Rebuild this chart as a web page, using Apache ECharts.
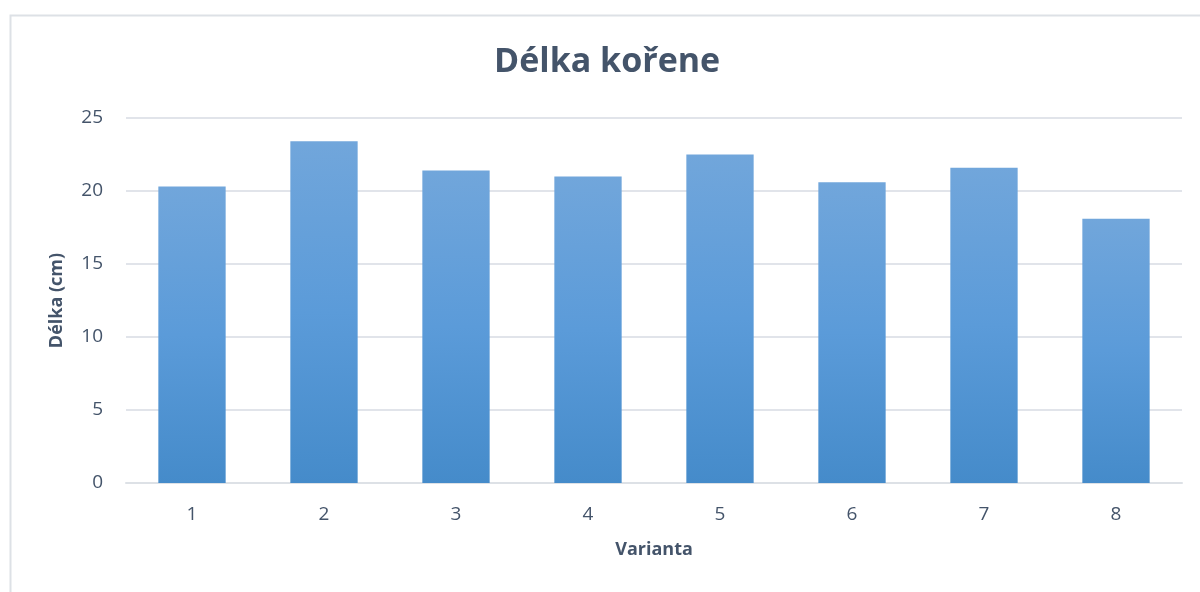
<!DOCTYPE html>
<html>
<head>
<meta charset="utf-8">
<title>Délka kořene</title>
<script src="https://cdn.jsdelivr.net/npm/echarts@6/dist/echarts.min.js"></script>
<style>
  html, body { margin: 0; padding: 0; background: #fff; }
  #chart { width: 1200px; height: 592px; }
</style>
</head>
<body>
<div id="chart"></div>
<script>
// data
var varianty = ['1', '2', '3', '4', '5', '6', '7', '8'];
var delka = [20.3, 23.4, 21.4, 21.0, 22.5, 20.6, 21.6, 18.1];
var yTicks = [0, 5, 10, 15, 20, 25];

var textColor = '#44546A';
var fontFam = '"Open Sans", "Noto Sans", sans-serif';

var myChart = echarts.init(document.getElementById('chart'));
var option = {
    animation: false,
    graphic: [{
        type: 'rect',
        left: 8, top: 13,
        shape: { width: 1220, height: 620 },
        style: { fill: 'none', stroke: '#DDE1E6', lineWidth: 2 },
        silent: true
    }],
    title: {
        text: 'Délka kořene',
        left: 489,
        top: 40,
        textStyle: {
            fontFamily: fontFam,
            fontSize: 34,
            fontWeight: 'bold',
            color: textColor
        }
    },
    grid: {
        left: 126,
        right: 18,
        top: 118,
        bottom: 109
    },
    xAxis: {
        type: 'category',
        data: varianty,
        name: 'Varianta',
        nameLocation: 'middle',
        nameGap: 58,
        nameTextStyle: {
            fontFamily: fontFam,
            fontSize: 18,
            fontWeight: 'bold',
            color: textColor
        },
        axisLine: { show: true, lineStyle: { color: '#DDE1E6', width: 2 } },
        axisTick: { show: false },
        axisLabel: {
            fontFamily: fontFam,
            fontSize: 19,
            color: textColor,
            margin: 22
        }
    },
    yAxis: {
        type: 'value',
        min: yTicks[0],
        max: yTicks[yTicks.length - 1],
        interval: 5,
        name: 'Délka (cm)',
        nameLocation: 'middle',
        nameGap: 60,
        nameTextStyle: {
            fontFamily: fontFam,
            fontSize: 18,
            fontWeight: 'bold',
            color: textColor
        },
        axisLine: { show: false },
        axisTick: { show: false },
        axisLabel: {
            fontFamily: fontFam,
            fontSize: 19,
            color: textColor,
            margin: 23
        },
        splitLine: { lineStyle: { color: '#E1E4EA', width: 2 } }
    },
    series: [{
        type: 'bar',
        data: delka,
        barWidth: '51%',
        itemStyle: {
            color: new echarts.graphic.LinearGradient(0, 0, 0, 1, [
                { offset: 0, color: '#71A6DB' },
                { offset: 0.5, color: '#5B9BD9' },
                { offset: 1, color: '#458BCA' }
            ])
        }
    }]
};
myChart.setOption(option);
</script>
</body>
</html>
